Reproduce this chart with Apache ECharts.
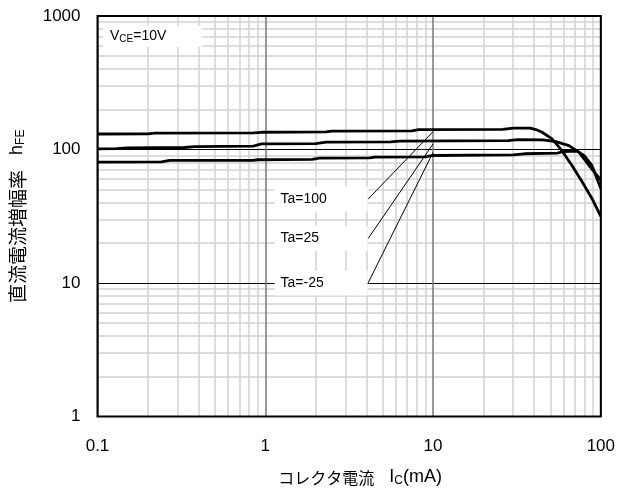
<!DOCTYPE html>
<html><head><meta charset="utf-8">
<script src="https://cdn.jsdelivr.net/npm/echarts@6/dist/echarts.min.js"></script>
<style>html,body{margin:0;padding:0;background:#fff}#c{width:618px;height:492px}</style>
</head><body><div id="c"></div>
<script>
// ---- data (Ic in mA, hFE) ----
const ta100 = [[0.1,130.7],[0.2,131],[0.22,132.5],[0.85,133],[0.95,134.6],[2.3,135.5],[2.5,137.4],[7.5,138],[8.2,140.7],[26,141.5],[30,144.8],[38,144.5],[41,141],[44.7,134.6],[51.2,120],[58.7,98],[67.3,76],[77.2,57.5],[88.5,43],[100,31.6]];
const ta25 = [[0.1,101],[0.13,101.5],[0.15,103],[0.33,103.5],[0.38,105.2],[0.85,106],[0.95,110],[2.0,110.5],[2.3,113.4],[5.6,114],[6.3,115.4],[28,116.5],[32,118.6],[45,118],[54,114.6],[64.6,107],[74.1,95.6],[85,76],[100,58.9]];
const taM25 = [[0.1,80.5],[0.24,80.8],[0.27,82.8],[0.85,83],[0.9,83.8],[1.9,84.2],[2.1,86.3],[4.2,86.5],[4.5,87.7],[9,88],[10,90.2],[30,91],[35,92.9],[55,94],[60,96.6],[72,97.2],[79.4,90.2],[88.5,76],[100,51]];
const curveNames = ['Ta=100','Ta=25','Ta=-25'];
// leader lines: [label anchor, point on curve]
const leader100 = [[4.1,42.5],[10,136]];
const leader25 = [[4.1,21.5],[10,110]];
const leaderM25 = [[4.1,10],[10,95]];
// axes
const xTickLabels = ['0.1','1','10','100'];
const yTickLabels = ['1','10','100','1000'];
const minorX = [0.2,0.3,0.4,0.5,0.6,0.7,0.8,0.9,2,3,4,5,6,7,8,9,20,30,40,50,60,70,80,90];
const minorY = [2,3,4,5,6,7,8,9,20,30,40,50,60,70,80,90,200,300,400,500,600,700,800,900];

const FONT = '"Liberation Sans", Arial, "Noto Sans CJK JP", sans-serif';
const CJK = '"Noto Sans CJK JP", "Liberation Sans", sans-serif';

function curve(d){
  return {type:'line', data:d, symbol:'none', showSymbol:false, z:4, silent:true,
    lineStyle:{color:'#000', width:2.8}, animation:false};
}
function leader(d, text){
  return {type:'line', z:5, silent:true, animation:false,
    symbol:'circle', symbolSize:1, showSymbol:true,
    itemStyle:{color:'rgba(0,0,0,0)'},
    lineStyle:{color:'#000', width:1},
    label:{show:false},
    data:[{value:d[0], label:{show:true, position:'left', distance:0,
            formatter:'{t|'+text+'}', backgroundColor:'#fff', padding:[5,0,5,6],
            rich:{t:{width:87, align:'left', fontSize:14, fontFamily:FONT, color:'#000', lineHeight:15}}}},
          {value:d[1]}]};
}

const chart = echarts.init(document.getElementById('c'));
chart.setOption({
  animation:false,
  backgroundColor:'#fff',
  title:{
    text:'{v|V}{s|CE}{v|=10V}', left:103, top:24, backgroundColor:'#fff', padding:[3,36,3,7],
    textStyle:{fontWeight:'normal', rich:{
      v:{fontSize:14, fontFamily:FONT, color:'#000', lineHeight:18, fontWeight:'normal'},
      s:{fontSize:10, fontFamily:FONT, color:'#000', padding:[6,0,0,0], fontWeight:'normal'}
    }}
  },
  grid:{left:97, right:16, top:16, bottom:72, show:true, borderColor:'#000', borderWidth:2, z:10},
  xAxis:{
    type:'log', logBase:10, min:0.1, max:100, z:1,
    axisLine:{show:false}, axisTick:{show:false},
    axisLabel:{margin:21, fontSize:17, color:'#000', fontFamily:FONT,
      formatter:(v,i)=>xTickLabels[i]},
    splitLine:{show:true, lineStyle:{color:'#777', width:1.5}},
    name:'{a|コレクタ電流}{b|   I}{s|C}{b|(mA)}', nameLocation:'middle', nameGap:51,
    nameTextStyle:{padding:[0,0,0,22], rich:{
      a:{fontSize:16, fontFamily:CJK, color:'#000', lineHeight:20},
      b:{fontSize:18, fontFamily:FONT, color:'#000', lineHeight:20},
      s:{fontSize:12, fontFamily:FONT, color:'#000', padding:[7,0,0,0]}
    }}
  },
  yAxis:{
    type:'log', logBase:10, min:1, max:1000, z:1,
    axisLine:{show:false}, axisTick:{show:false},
    axisLabel:{margin:17, fontSize:17, color:'#000', fontFamily:FONT, padding:[4,0,0,0],
      formatter:(v,i)=>yTickLabels[i]},
    splitLine:{show:true, lineStyle:{color:'#000', width:1}},
    name:'{a|直流電流増幅率}{b|   h}{s|FE}', nameLocation:'middle', nameGap:69,
    nameTextStyle:{rich:{
      a:{fontSize:19, fontFamily:CJK, color:'#000', lineHeight:22},
      b:{fontSize:18, fontFamily:FONT, color:'#000', lineHeight:22},
      s:{fontSize:12, fontFamily:FONT, color:'#000', padding:[7,0,0,0]}
    }}
  },
  series:[
    {type:'line', data:[], z:0, silent:true,
     markLine:{z:0, silent:true, symbol:['none','none'], label:{show:false}, animation:false,
       lineStyle:{color:'#d2d2d2', width:1.5, type:'solid'},
       emphasis:{disabled:true},
       data:[...minorX.map(v=>({xAxis:v})), ...minorY.map(v=>({yAxis:v}))]}},
    curve(ta100), curve(ta25), curve(taM25),
    leader(leader100, curveNames[0]),
    leader(leader25, curveNames[1]),
    leader(leaderM25, curveNames[2])
  ]
});
</script></body></html>
